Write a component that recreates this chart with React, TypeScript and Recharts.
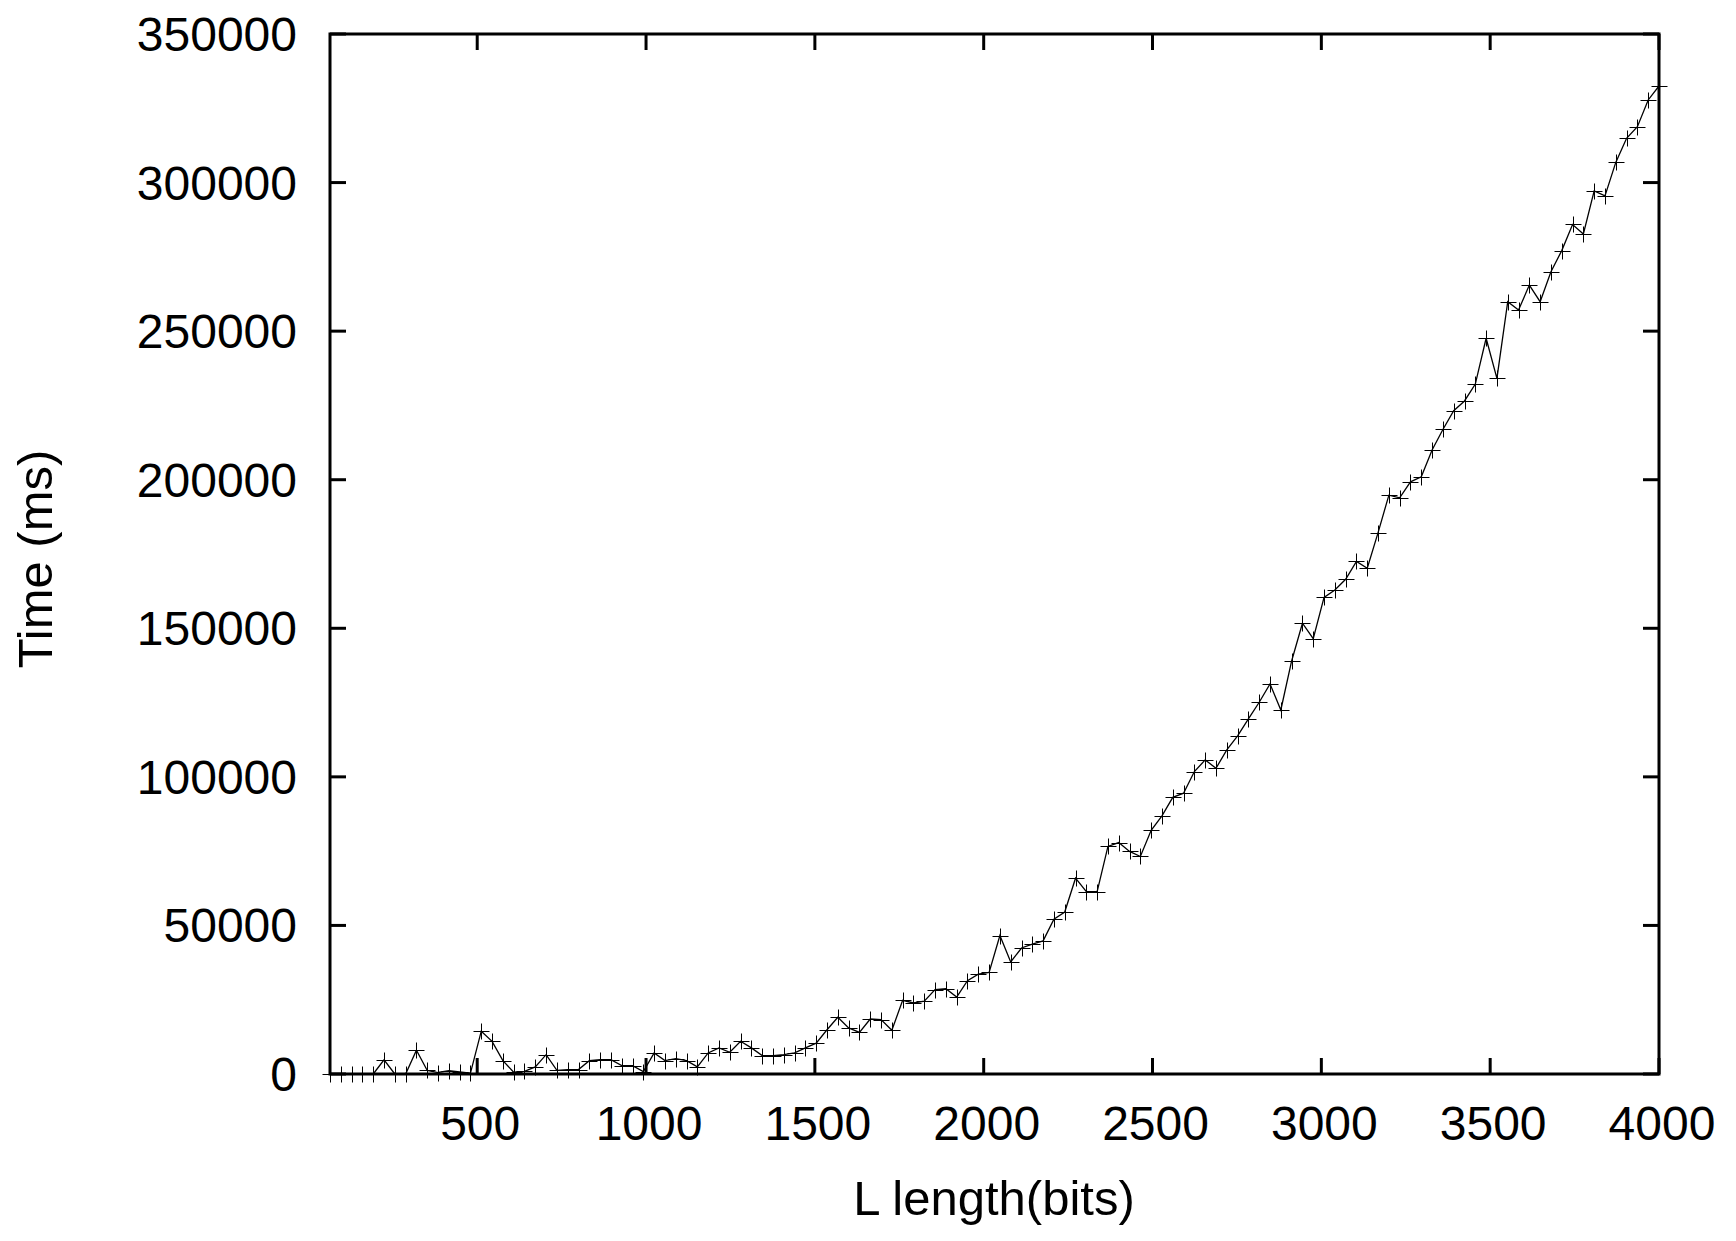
import React from 'react';
import { LineChart, Line, XAxis, YAxis, ReferenceArea } from 'recharts';

// L length in bits (one run every 32 bits)
const bits = [
  64, 96, 128, 160, 192, 224, 256, 288, 320, 352,
  384, 416, 448, 480, 512, 544, 576, 608, 640, 672,
  704, 736, 768, 800, 832, 864, 896, 928, 960, 992,
  1024, 1056, 1088, 1120, 1152, 1184, 1216, 1248, 1280, 1312,
  1344, 1376, 1408, 1440, 1472, 1504, 1536, 1568, 1600, 1632,
  1664, 1696, 1728, 1760, 1792, 1824, 1856, 1888, 1920, 1952,
  1984, 2016, 2048, 2080, 2112, 2144, 2176, 2208, 2240, 2272,
  2304, 2336, 2368, 2400, 2432, 2464, 2496, 2528, 2560, 2592,
  2624, 2656, 2688, 2720, 2752, 2784, 2816, 2848, 2880, 2912,
  2944, 2976, 3008, 3040, 3072, 3104, 3136, 3168, 3200, 3232,
  3264, 3296, 3328, 3360, 3392, 3424, 3456, 3488, 3520, 3552,
  3584, 3616, 3648, 3680, 3712, 3744, 3776, 3808, 3840, 3872,
  3904, 3936, 3968, 4000,
];

// measured time in ms
const timeMs = [
  0, 0, 0, 0, 0, 4800, 0, 0, 8000, 1200,
  500, 1100, 700, 300, 14400, 11000, 4500, 600, 900, 2400,
  6500, 1200, 1500, 1500, 4500, 4800, 4800, 2800, 2800, 800,
  7100, 4500, 5200, 4500, 2400, 7100, 8800, 7300, 11000, 8800,
  6200, 6200, 6500, 7100, 8800, 10400, 14900, 19100, 15500, 14000,
  18500, 18300, 14700, 24800, 23900, 24500, 28400, 28700, 25900, 31400,
  33600, 34200, 46600, 37700, 42400, 43700, 44800, 52100, 54500, 65900,
  61400, 61400, 76600, 77900, 74900, 73200, 82000, 86900, 93100, 94500,
  101800, 105700, 102900, 109100, 113800, 119500, 125100, 131300, 122500, 139000,
  151700, 146500, 160400, 162900, 166500, 172500, 170200, 182200, 194800, 193900,
  199300, 201000, 210000, 216900, 223200, 226500, 232200, 247600, 234100, 259900,
  257100, 265500, 259900, 270000, 277100, 285900, 282700, 297200, 295500, 306800,
  314900, 318800, 327800, 332500,
];

const xTicks = [500, 1000, 1500, 2000, 2500, 3000, 3500, 4000];
const yTicks = [0, 50000, 100000, 150000, 200000, 250000, 300000, 350000];

const data = bits.map((b, i) => ({ bits: b, time: timeMs[i] }));

// plot box in page pixels
const W = 1736;
const H = 1241;
const LEFT = 330;
const RIGHT = 1659;
const TOP = 34;
const BOTTOM = 1074;
const TICK = 16;
const FONT = "'Liberation Sans', Arial, Helvetica, sans-serif";

const XTick = (props: any) => {
  const { x, payload } = props;
  return (
    <g>
      <line x1={x} x2={x} y1={BOTTOM} y2={BOTTOM - TICK} stroke="#000" strokeWidth={3} />
      <line x1={x} x2={x} y1={TOP} y2={TOP + TICK} stroke="#000" strokeWidth={3} />
      <text x={x + 3} y={1140} textAnchor="middle" fontFamily={FONT} fontSize={48} fill="#000">
        {payload.value}
      </text>
    </g>
  );
};

const YTick = (props: any) => {
  const { y, payload } = props;
  return (
    <g>
      <line x1={LEFT} x2={LEFT + TICK} y1={y} y2={y} stroke="#000" strokeWidth={3} />
      <line x1={RIGHT - TICK} x2={RIGHT} y1={y} y2={y} stroke="#000" strokeWidth={3} />
      <text x={297} y={y + 17} textAnchor="end" fontFamily={FONT} fontSize={48} fill="#000">
        {payload.value}
      </text>
    </g>
  );
};

// gnuplot style "+" point, snapped to the pixel grid so it stays crisp
const Plus = (props: any) => {
  const { cx, cy, index } = props;
  if (cx == null || cy == null) return <g key={index} />;
  const px = Math.round(cx) + 0.5;
  const py = Math.round(cy) + 0.5;
  return (
    <path
      key={index}
      d={`M${px - 8},${py}H${px + 8}M${px},${py - 8}V${py + 8}`}
      stroke="#000"
      strokeWidth={1}
      fill="none"
    />
  );
};

const App: React.FC = () => (
  <div style={{ position: 'absolute', left: 0, top: 0, width: W, height: H, background: '#fff' }}>
    <LineChart
      width={W}
      height={H}
      data={data}
      margin={{ top: TOP, right: W - RIGHT, bottom: 0, left: 0 }}
    >
      <XAxis
        dataKey="bits"
        type="number"
        domain={[64, 4000]}
        ticks={xTicks}
        interval={0}
        height={H - BOTTOM}
        axisLine={false}
        tickLine={false}
        tick={XTick}
        label={{
          content: () => (
            <text x={994} y={1215} textAnchor="middle" fontFamily={FONT} fontSize={49} fill="#000">
              L length(bits)
            </text>
          ),
        }}
      />
      <YAxis
        type="number"
        domain={[0, 350000]}
        ticks={yTicks}
        interval={0}
        width={LEFT}
        axisLine={false}
        tickLine={false}
        tick={YTick}
        label={{
          content: () => (
            <text
              x={52}
              y={559}
              transform="rotate(-90, 52, 559)"
              textAnchor="middle"
              fontFamily={FONT}
              fontSize={49}
              fill="#000"
            >
              Time (ms)
            </text>
          ),
        }}
      />
      <ReferenceArea x1={64} x2={4000} y1={0} y2={350000} fill="none" stroke="#000" strokeWidth={3} />
      <Line
        type="linear"
        dataKey="time"
        stroke="#000"
        strokeWidth={1.3}
        dot={Plus}
        activeDot={false}
        isAnimationActive={false}
      />
    </LineChart>
  </div>
);

export default App;
